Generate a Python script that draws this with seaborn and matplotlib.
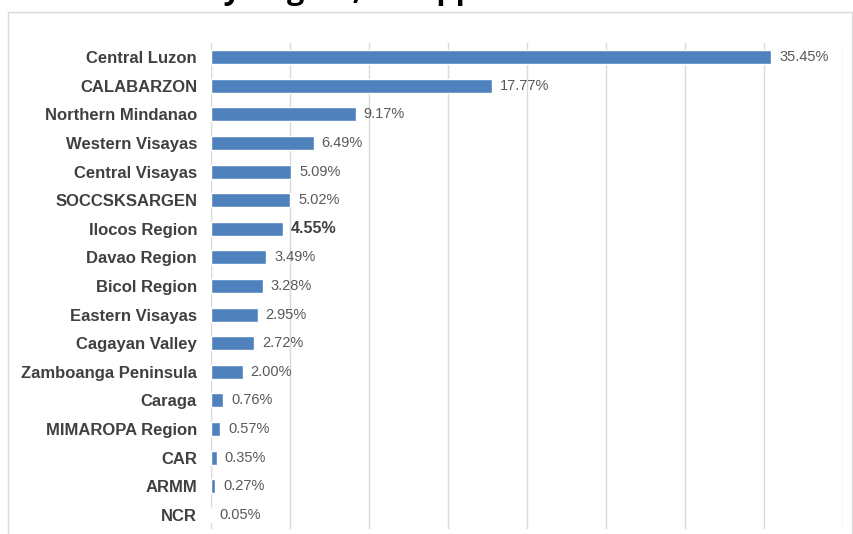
import pandas as pd
import matplotlib.pyplot as plt
import matplotlib.patches as mpatches
import seaborn as sns

# data
regions = ["Central Luzon", "CALABARZON", "Northern Mindanao", "Western Visayas",
           "Central Visayas", "SOCCSKSARGEN", "Ilocos Region", "Davao Region",
           "Bicol Region", "Eastern Visayas", "Cagayan Valley", "Zamboanga Peninsula",
           "Caraga", "MIMAROPA Region", "CAR", "ARMM", "NCR"]
shares = [35.45, 17.77, 9.17, 6.49, 5.09, 5.02, 4.55, 3.49, 3.28, 2.95, 2.72,
          2.00, 0.76, 0.57, 0.35, 0.27, 0.05]
highlight = "Ilocos Region"
title_text = "by Region, Philippines"

df = pd.DataFrame({"region": regions, "share": shares})

sns.set_style("white")
plt.rcParams["font.family"] = ["Liberation Sans", "DejaVu Sans"]

W, H = 854, 534
fig = plt.figure(figsize=(W / 100, H / 100), dpi=100)
ax = fig.add_axes([211 / W, 1 - 529 / H, (843 - 211) / W, (529 - 43) / H])

sns.barplot(data=df, x="share", y="region", color="#4F81BD", width=0.49,
            saturation=1, ax=ax, zorder=3)

ax.set_xlim(0, 40)
ax.set_xticks(range(0, 41, 5))
ax.set_xticklabels([])
ax.tick_params(axis="x", length=0)
ax.tick_params(axis="y", length=0, pad=10)
ax.grid(axis="x", color="#D9D9D9", linewidth=1, zorder=0)
ax.set_xlabel("")
ax.set_ylabel("")
for s in ax.spines.values():
    s.set_visible(False)

for lab in ax.get_yticklabels():
    lab.set_fontsize(12)
    lab.set_fontweight("bold")
    lab.set_color("#404040")

# value labels
for i, (r, v) in enumerate(zip(regions, shares)):
    if r == highlight:
        ax.text(v + 0.5, i, f"{v:.2f}%", va="center", ha="left",
                fontsize=11.5, fontweight="bold", color="#404040")
    else:
        ax.text(v + 0.5, i, f"{v:.2f}%", va="center", ha="left",
                fontsize=10.5, color="#595959")

# chart area border
fig.add_artist(mpatches.Rectangle((8 / W, -0.05), 844 / W, 1.05 - 12 / H,
                                  transform=fig.transFigure, fill=False,
                                  edgecolor="#D9D9D9", linewidth=1))

# title, clipped by the top edge as in the source
fig.text(205 / W, 1 + 1 / H, title_text, ha="left", va="baseline",
         fontsize=22, fontweight="bold", family=["Open Sans", "DejaVu Sans"],
         color="black")

fig.savefig("out.png", dpi=100)
